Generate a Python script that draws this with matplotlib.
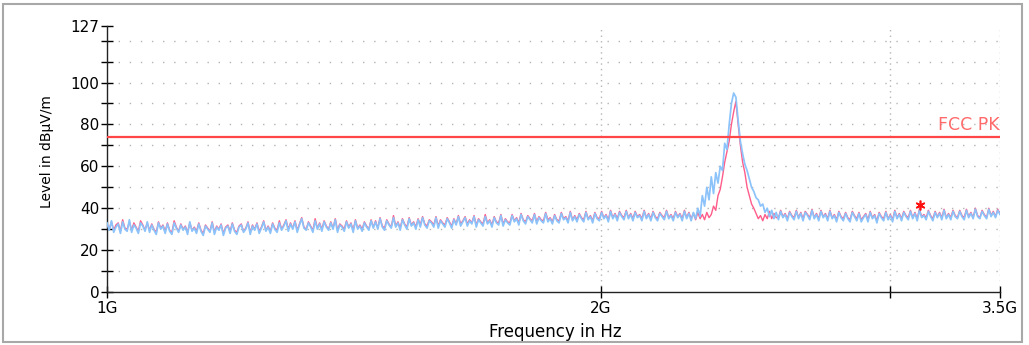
import numpy as np
import matplotlib
matplotlib.use("Agg")
import matplotlib.pyplot as plt
from matplotlib.patches import Rectangle

plt.rcParams['font.family'] = ['DejaVu Sans']

# ---- data -------------------------------------------------------------
f_start_hz = 1e9
f_stop_hz = 3.5e9
n_points = 400

blue_level = [
    33, 29.5, 34, 28.5, 31, 32.5, 28, 33.5, 30, 29, 34.5, 28.5, 32, 30.5, 28, 33, 31.5, 29, 33.5, 28.5,
    32, 29.5, 27.5, 33, 30, 31.5, 28, 32.5, 29, 27.5, 33, 30.5, 28.5, 32, 29.5, 31, 27.5, 33.5, 29, 30.5,
    28, 32.5, 29, 27, 31.5, 30, 28.5, 33, 27.5, 31, 29.5, 32, 27, 30.5, 31.5, 28, 32.5, 29, 27.5, 31,
    32, 28.5, 30, 33, 27.5, 31.5, 29.5, 32.5, 28, 30.5, 33.5, 29, 31, 28, 32.5, 30, 28.5, 33, 29.5, 31.5,
    34, 29, 32.5, 30, 33.5, 28.5, 32, 35, 30.5, 29.5, 33, 31, 28.5, 34, 30, 32.5, 29, 33.5, 31, 29.5,
    33, 30, 34.5, 28.5, 32, 31, 29, 33.5, 30.5, 32.5, 28.5, 34, 30, 31.5, 29, 33, 31, 29.5, 34, 30.5,
    33.5, 30, 35, 31, 29.5, 34, 32, 30.5, 35.5, 31, 33, 29.5, 34.5, 32, 30, 35, 31.5, 33, 30, 34.5,
    31, 35.5, 32, 30.5, 34, 33, 31, 35.5, 30.5, 34, 32.5, 31, 35, 33, 30.5, 34.5, 32, 36, 31.5, 33.5,
    35.5, 31.5, 34, 32.5, 36, 31, 34.5, 33, 31.5, 36, 32.5, 34, 31, 35.5, 33, 32, 36.5, 31.5, 34.5, 33,
    32, 36.5, 33.5, 35, 32, 37, 34, 32.5, 36, 34.5, 33, 37, 32.5, 35.5, 34, 33, 37.5, 33.5, 35, 32.5,
    36.5, 34, 33, 37.5, 34.5, 35.5, 33, 38, 34, 36, 33.5, 37, 35, 33.5, 38, 34.5, 36, 33, 37.5, 35,
    34, 38, 35, 36.5, 33.5, 38.5, 35, 37, 34, 38, 36, 34.5, 38.5, 35, 37, 34, 38, 35.5, 36.5, 34,
    38.5, 35, 37, 34, 38, 35.5, 34, 37.5, 36, 34.5, 38.5, 35, 36.5, 34, 38, 35.5, 37, 34, 38.5, 35,
    37.5, 34, 38, 35, 40, 36, 46, 41, 50, 44, 55, 47, 57, 52, 60, 58, 71, 68, 80, 90,
    95, 93, 82, 72, 66, 61, 58, 54, 50, 48, 45, 44, 41, 42, 38, 40, 36, 39, 35, 38,
    34.5, 38.5, 35.5, 37, 34, 38, 36, 34.5, 38.5, 35, 37.5, 34, 38, 36.5, 34.5, 39, 35, 37, 34, 38.5,
    35.5, 37, 34, 38.5, 35, 36.5, 33.5, 38, 35.5, 34, 37.5, 35, 33.5, 38, 36, 34, 37.5, 33.5, 35.5, 37,
    33.5, 38, 35, 36.5, 33, 37.5, 35.5, 34, 38, 34.5, 36.5, 33.5, 38.5, 35, 37, 34, 38, 36, 34.5, 38.5,
    35, 37.5, 34, 39, 35.5, 36.5, 34.5, 38.5, 36, 34, 38, 35.5, 37.5, 34.5, 39, 35, 37, 34.5, 38.5, 36,
    35, 38.5, 36, 34.5, 39, 35.5, 37.5, 35, 39.5, 36, 35, 38.5, 36.5, 35, 39.5, 36, 38, 35.5, 39, 37,
]

red_level = [
    32.5, 30, 33.5, 29.5, 32, 33, 29, 34.5, 30.5, 30, 33.5, 29.5, 33, 31, 29, 34, 32, 29.5, 33, 29.5,
    32.5, 30, 28.5, 33.5, 30.5, 32, 29, 33, 29.5, 28.5, 34, 31, 29, 32.5, 30, 31.5, 28.5, 33, 29.5, 31,
    29, 33, 29.5, 28, 32, 30.5, 29, 33.5, 28.5, 31.5, 30, 32.5, 28, 31, 32, 29, 33, 29.5, 28.5, 31.5,
    32.5, 29, 30.5, 33.5, 28.5, 32, 30, 33, 29, 31, 34, 29.5, 31.5, 29, 33, 30.5, 29.5, 34, 30, 32,
    34.5, 30, 33, 30.5, 34, 29.5, 32.5, 35.5, 31, 30, 33.5, 31.5, 29.5, 35, 30.5, 33, 30, 34, 31.5, 30,
    33.5, 30.5, 35, 29.5, 32.5, 31.5, 30, 34, 31, 33, 29.5, 34.5, 30.5, 32, 30, 33.5, 31.5, 30, 34.5, 31,
    34, 30.5, 35.5, 31.5, 30.5, 34.5, 32.5, 31, 36.5, 31.5, 33.5, 30.5, 35, 32.5, 31, 35.5, 32, 33.5, 31, 35,
    32, 36, 32.5, 31.5, 34.5, 33.5, 32, 36, 31.5, 34.5, 33, 32, 35.5, 33.5, 31.5, 35, 32.5, 36.5, 32.5, 34,
    36, 32.5, 34.5, 33, 36.5, 32, 35, 33.5, 32.5, 37, 33, 34.5, 32, 36, 33.5, 33, 37, 32.5, 35, 33.5,
    33, 37, 34, 35.5, 33, 37.5, 34.5, 33.5, 36.5, 35, 34, 37.5, 33.5, 36, 34.5, 34, 38, 34.5, 35.5, 33.5,
    37, 34.5, 34, 38, 35, 36, 34, 38.5, 34.5, 36.5, 34.5, 37.5, 35.5, 34.5, 38.5, 35, 36.5, 34, 38, 35.5,
    35, 38.5, 35.5, 37, 34.5, 39, 35.5, 37.5, 35, 38.5, 36.5, 35.5, 39, 35.5, 37.5, 35, 38.5, 36, 37, 35,
    39, 35.5, 37.5, 35, 38.5, 36, 35, 38, 36.5, 35.5, 39, 35.5, 37, 35, 38.5, 36, 37.5, 35, 39, 35.5,
    38, 35, 37.5, 34.5, 38, 35, 37, 34.5, 38, 35.5, 37, 41, 39, 46, 49, 55, 62, 67, 72, 80,
    86, 91, 80, 70, 62, 57, 50, 46, 42, 40, 37.5, 35, 36.5, 34, 37, 35, 38.5, 35, 37.5, 35.5,
    35.5, 39, 36, 37.5, 35, 38.5, 36.5, 35.5, 39, 35.5, 38, 35, 38.5, 37, 35.5, 39.5, 35.5, 37.5, 35, 39,
    36, 37.5, 35, 39, 35.5, 37, 34.5, 38.5, 36, 35, 38, 35.5, 34.5, 38.5, 36.5, 35, 38, 34.5, 36, 37.5,
    34.5, 38.5, 35.5, 37, 34, 38, 36, 35, 38.5, 35, 37, 34.5, 39, 35.5, 37.5, 35, 38.5, 36.5, 35.5, 39,
    35.5, 38, 35, 39.5, 36, 37, 35.5, 39, 36.5, 35, 38.5, 36, 38, 35.5, 39.5, 35.5, 37.5, 35.5, 39, 36.5,
    35.5, 39, 36.5, 35.5, 39.5, 36, 38, 35.5, 40, 36.5, 35.5, 39, 37, 35.5, 40, 36.5, 38.5, 36, 39.5, 37.5,
]

limit_level = 74
limit_name = "FCC PK"
marker_freq = [3.13e9]
marker_level = [41.5]

y_major = [0, 20, 40, 60, 80, 100, 127]
y_minor = [10, 30, 50, 70, 90, 110, 120]
x_ticks = [1e9, 2e9, 3e9, 3.5e9]
x_ticklabels = ["1G", "2G", "", "3.5G"]

# ---- figure -----------------------------------------------------------
freq = np.geomspace(f_start_hz, f_stop_hz, n_points)

fig = plt.figure(figsize=(10.29, 3.45), dpi=100)
ax = fig.add_axes([107/1029, 1-292/345, (1000-107)/1029, (292-26)/345])

ax.plot(freq, red_level, color='#ff5c8a', lw=1.0, zorder=3)
ax.plot(freq, blue_level, color='#8cc3fa', lw=1.25, zorder=4)
ax.axhline(limit_level, color='#ff4545', lw=1.6, zorder=5)
ax.plot(marker_freq, marker_level, linestyle='none', marker=(6, 2, 0),
        markersize=7, color='#ff1010', markeredgewidth=1.2, zorder=6)
ax.text(f_stop_hz, limit_level + 1.5, limit_name, color='#ff6a6a',
        ha='right', va='bottom', fontsize=12.5)

ax.set_xscale('log')
ax.set_xlim(f_start_hz, f_stop_hz)
ax.set_ylim(0, 127)

ax.set_yticks(y_major)
ax.set_yticks(y_minor, minor=True)
ax.set_xticks(x_ticks)
ax.set_xticklabels(x_ticklabels)
ax.xaxis.set_minor_locator(matplotlib.ticker.NullLocator())

ax.tick_params(axis='y', which='both', direction='inout', length=9, width=1,
               labelsize=11, pad=1, colors='black')
ax.tick_params(axis='x', which='major', direction='inout', length=9, width=1,
               labelsize=11, pad=2)

for s in ['top', 'right']:
    ax.spines[s].set_visible(False)
for s in ['left', 'bottom']:
    ax.spines[s].set_linewidth(1)
    ax.spines[s].set_color('#222222')

for yv in y_major[1:-1] + y_minor:
    ax.axhline(yv, color='#b4b4b4', lw=1, linestyle=(0, (1, 7)), zorder=1)
for xv in x_ticks[1:]:
    ax.axvline(xv, color='#b4b4b4', lw=1, linestyle=(0, (1, 3)), zorder=1)

fig.text(555/1029, 1-332/345, "Frequency in Hz", ha='center', va='center', fontsize=12)
fig.text(47/1029, 1-152/345, "Level in dB\u00b5V/m", ha='center', va='center',
         rotation=90, fontsize=10)

fig.patches.append(Rectangle((3/1029, 1-342/345), 1019/1029, 338/345,
                             transform=fig.transFigure, fill=False,
                             edgecolor='#a8a8a8', lw=1.5))

fig.savefig("out.png", dpi=100)
